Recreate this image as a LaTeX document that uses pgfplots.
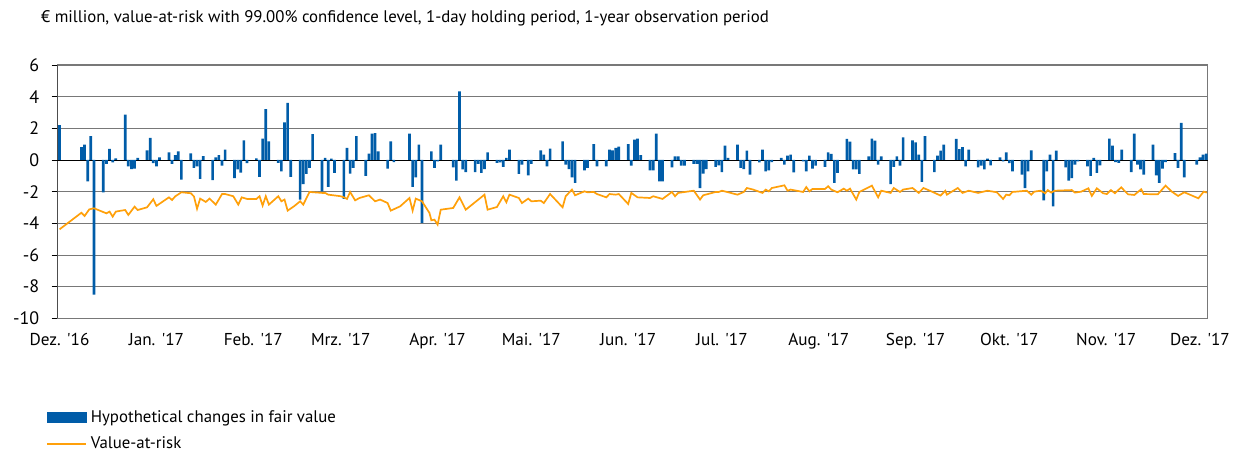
\documentclass[border=0pt]{standalone}
\usepackage{fontspec}
\setmainfont{PT Sans}[Ligatures=TeXOff]
\usepackage{pgfplots}
\usepackage{pgfplotstable}
\pgfplotsset{compat=1.18}
\definecolor{barblue}{RGB}{0,92,168}
\definecolor{varorange}{RGB}{255,160,10}
\definecolor{gridgray}{RGB}{120,120,120}

\pgfplotstableread{
d v
0 2.2
7 0.82
8 0.97
9 -1.35
10 1.5
11 -8.5
14 -2.04
15 -0.25
16 0.7
17 -0.15
18 0.1
21 2.86
22 -0.4
23 -0.57
24 -0.55
25 0.13
28 0.61
29 1.39
30 -0.2
31 -0.4
32 0.17
35 0.48
36 -0.25
37 0.3
38 0.55
39 -1.24
42 0.42
43 -0.5
44 -0.4
45 -1.2
46 0.25
49 -1.28
50 0.17
51 0.3
52 -0.36
53 0.65
56 -1.14
57 -0.6
58 -0.8
59 1.24
60 -0.2
63 0.1
64 -1.07
65 1.35
66 3.22
67 1.18
70 -0.19
71 -0.72
72 2.38
73 3.6
74 -1.07
77 -2.5
78 -1.52
79 -0.88
80 -0.5
81 1.64
84 -1.98
85 0.13
86 -1.7
87 0.08
88 -0.82
91 -2.46
92 0.76
93 -0.86
94 -0.5
95 1.5
98 -1.0
99 0.4
100 1.66
101 1.7
102 0.55
105 -0.55
106 1.18
107 -0.13
112 1.66
113 -1.7
114 -1.1
115 0.97
116 -3.98
119 0.55
120 -0.5
121 -0.08
122 0.97
126 -0.46
127 -1.3
128 4.34
129 -0.6
130 -0.76
133 -0.76
134 -0.25
135 -0.82
136 -0.57
137 0.48
140 -0.19
141 -0.15
142 -0.44
143 0.13
144 0.65
147 -0.88
148 -0.3
150 -0.97
151 -0.25
154 0.61
155 0.34
156 -0.4
157 0.72
161 1.18
162 -0.3
163 -0.57
164 -1.1
165 -1.45
168 -0.65
169 -0.5
171 1.0
172 -0.4
175 -0.4
176 0.65
177 0.6
178 0.76
179 0.84
182 1.0
183 -0.35
184 1.28
185 1.35
186 0.3
189 -0.65
190 -0.65
191 1.66
192 -1.35
193 -1.35
196 -0.46
197 0.23
198 0.23
199 -0.36
200 -0.36
203 -0.25
204 -0.25
205 -1.77
206 -0.86
207 -0.57
210 -0.44
211 -0.34
212 -0.76
213 0.9
214 0.13
217 0.97
218 -0.5
219 -0.57
220 0.59
221 -0.93
224 -0.15
225 0.65
226 -0.72
227 -0.65
228 -0.13
231 0.13
232 -0.3
233 0.27
234 0.34
235 -0.78
238 -0.08
239 -0.72
240 0.27
241 -0.55
242 -0.36
245 -0.44
246 0.48
247 0.38
248 -1.45
249 -0.82
252 1.33
253 1.16
254 -0.6
255 -0.6
256 -0.88
259 0.23
260 1.35
261 1.22
262 -0.3
263 0.23
266 -1.52
267 -0.44
268 0.23
269 -0.36
270 1.43
273 1.24
274 1.12
275 0.34
276 -1.39
277 1.5
280 -0.76
281 0.27
282 0.59
283 0.97
287 1.33
288 0.69
289 0.82
290 -0.4
291 0.65
294 -0.46
295 -0.36
296 -0.6
297 0.08
298 -0.34
301 0.17
302 -0.08
303 0.48
304 -0.2
305 -0.72
308 -0.93
309 -1.77
310 -0.72
311 0.61
315 -2.55
316 -0.72
317 0.34
318 -2.93
319 0.59
322 -0.46
323 -1.3
324 -1.14
325 -0.3
326 -0.08
329 -0.4
330 -1.0
331 0.13
332 -0.82
333 -0.34
336 1.35
337 0.9
338 -0.13
339 -0.19
340 0.65
343 -0.76
344 1.66
345 -0.3
346 -0.6
347 -0.93
350 0.97
351 -0.97
352 -1.45
353 -0.55
354 -0.13
357 0.44
358 -0.5
359 2.34
360 -1.1
364 -0.3
365 0.17
366 0.34
367 0.4
}\bars

\pgfplotstableread{
d v
0 -4.38
7 -3.33
8 -3.54
9.5 -3.12
11 -3.05
15 -3.37
16 -3.26
17 -3.58
18 -3.26
21 -3.16
22 -3.47
24 -2.95
25 -3.16
28 -2.99
30 -2.48
31 -2.9
35 -2.36
36 -2.53
37 -2.3
39 -2.04
42 -2.1
43 -2.3
44 -3.08
45 -2.44
46.8 -2.65
48 -2.44
50 -2.82
52 -2.15
53 -2.15
55.6 -2.29
57.2 -2.82
58.3 -2.36
60 -2.46
63 -2.46
64 -2.29
65 -2.88
66 -2.29
67 -2.82
70 -2.29
71 -2.61
72 -2.5
73 -3.2
75 -2.93
77 -2.61
78 -2.82
80 -2.02
84 -2.08
85 -2.08
86 -2.19
90 -2.29
91 -2.36
92 -2.46
93 -2.02
94.6 -2.55
96 -2.4
99 -2.23
101 -2.61
102.6 -2.5
105 -2.72
106 -3.2
109 -2.93
112 -2.4
113 -3.2
114 -2.44
116 -2.61
118.4 -3.35
119 -3.81
120 -3.77
121 -4.08
122 -3.14
126 -3.03
128 -2.36
130 -3.14
136 -2.19
137 -3.14
140 -2.97
142 -2.29
143 -2.67
144 -2.19
147 -2.4
148 -2.72
150 -2.44
151 -2.61
154 -2.57
155 -2.72
157 -2.15
161 -2.99
162 -2.29
164 -1.87
165 -2.23
168 -1.98
169 -2.04
171 -2.02
172 -2.15
175 -2.36
176 -2.15
178 -2.19
179 -2.15
182 -2.78
183 -2.08
185 -2.36
189 -2.4
190 -2.29
193 -2.46
196 -2.02
197 -2.29
198 -2.08
203 -1.94
205 -2.5
206 -2.23
210 -2.02
211 -2.02
212 -1.94
217 -2.19
219 -2.02
220 -1.77
222 -1.87
225 -2.08
226 -1.87
227 -1.98
228 -1.77
232 -1.6
233 -1.94
234 -1.87
238 -2.02
239 -1.71
240 -1.98
241 -1.83
245 -1.83
246 -1.66
247 -1.87
249 -2.04
251 -1.81
252 -1.94
253 -1.81
255 -2.5
256 -2.02
260 -1.62
262 -2.36
263 -1.94
266 -2.08
267 -1.77
269 -2.02
270 -1.87
273 -1.77
275 -2.08
276.5 -1.77
279 -1.98
282 -2.25
283.5 -1.94
284 -2.19
287.5 -1.77
289 -2.08
291 -1.94
294 -2.08
297 -1.94
300 -2.04
302 -2.46
303 -2.19
304 -2.23
305 -2.02
309.6 -1.94
311 -2.19
312 -2.0
314 -1.94
315.5 -2.1
316.3 -1.9
317.4 -2.06
318.5 -1.94
324 -1.9
325 -2.06
327 -2.0
329.3 -1.79
330.4 -2.27
332 -1.79
334 -2.1
335.2 -2.15
336.5 -1.9
337.8 -2.1
339.8 -1.73
342 -2.17
344 -2.21
346.2 -1.85
347 -2.15
351.5 -2.17
354 -1.62
356 -2.0
358 -2.27
360 -2.04
364.5 -2.42
366.2 -2.0
367.2 -2.06
}\varline

\begin{document}
\begin{tikzpicture}[x=1pt,y=1pt]
\useasboundingbox (0,0) rectangle (1235,452);
\node[anchor=west, inner sep=0pt, font=\fontsize{16.8}{19}\selectfont] at (41,434)
  {€ million, value-at-risk with 99.00\% confidence level, 1-day holding period, 1-year observation period};
\begin{axis}[
  at={(57.7pt,133.7pt)}, anchor=south west,
  scale only axis, width=1150pt, height=253.3pt,
  xmin=-0.6, xmax=367.5, ymin=-10, ymax=6,
  ytick={-10,-8,-6,-4,-2,2,4,6},
  extra y ticks={0}, extra y tick labels={0},
  extra y tick style={major grid style={black, line width=0.9pt}},
  xtick={0,31,62,90,121,151,182,212,243,274,304,335,365},
  xticklabels={Dez. '16,Jan. '17,Feb. '17,Mrz. '17,Apr. '17,Mai. '17,Jun. '17,Jul. '17,Aug. '17,Sep. '17,Okt. '17,Nov. '17,Dez. '17},
  xtick style={draw=none},
  ytick style={black, line width=0.8pt},
  ytick pos=left, tick align=outside, major tick length=6pt,
  ymajorgrids, major grid style={gridgray, line width=0.9pt},
  axis line style={gridgray, line width=1pt},
  /pgf/number format/assume math mode=true,
  xticklabel style={font=\fontsize{17.2}{17}\selectfont, yshift=-5pt},
  yticklabel style={font=\fontsize{18}{18}\selectfont, xshift=-9pt},
  legend style={at={(axis description cs:-0.0102,-0.362)}, anchor=north west,
    draw=none, fill=none, font=\fontsize{16.8}{19}\selectfont, row sep=13.5pt,
    column sep=4pt, inner sep=0pt, nodes={inner sep=0pt}},
  legend cell align=left,
]
\addplot[ybar, bar width=0.85, fill=barblue, draw=none, forget plot] table[x=d,y=v]{\bars};
\addplot[varorange, line width=1.7pt, mark=none, forget plot] table[x=d,y=v]{\varline};
\draw[black, line width=1pt] (rel axis cs:0,0) -- (rel axis cs:0,1);
\addlegendimage{legend image code/.code={\fill[barblue] (0pt,-5pt) rectangle (39pt,5pt);}}
\addlegendentry{Hypothetical changes in fair value}
\addlegendimage{legend image code/.code={\draw[varorange, line width=1.7pt] (0pt,0pt) -- (39pt,0pt);}}
\addlegendentry{Value-at-risk}
\end{axis}
\end{tikzpicture}
\end{document}
